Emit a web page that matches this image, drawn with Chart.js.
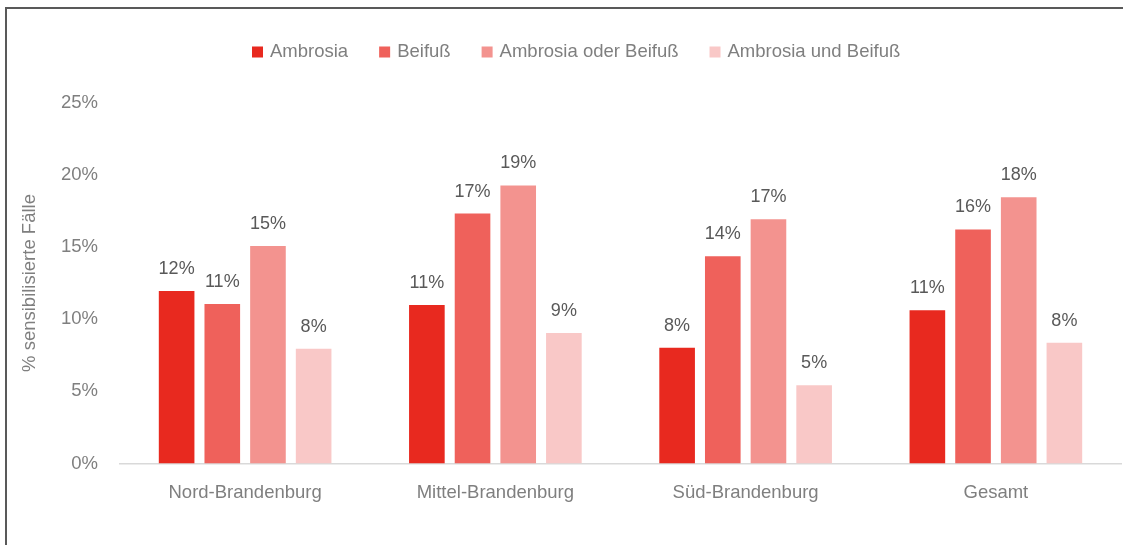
<!DOCTYPE html>
<html>
<head>
<meta charset="utf-8">
<script src="https://cdn.jsdelivr.net/npm/chart.js@4"></script>
<style>
  body { margin: 0; background: #fff; }
  #wrap { position: relative; width: 1123px; height: 545px; overflow: hidden; }
  #frame { position: absolute; left: 5px; top: 7px; right: -10px; bottom: -10px;
           border-top: 2px solid #595959; border-left: 2px solid #595959; }
  canvas { position: absolute; left: 0; top: 0; }
</style>
</head>
<body>
<div id="wrap">
  <div id="frame"></div>
  <canvas id="chart" width="1123" height="545"></canvas>
</div>
<script>
const regions = ['Nord-Brandenburg', 'Mittel-Brandenburg', 'Süd-Brandenburg', 'Gesamt'];
const seriesNames = ['Ambrosia', 'Beifuß', 'Ambrosia oder Beifuß', 'Ambrosia und Beifuß'];
const ambrosia = [11.94, 10.97, 8.01, 10.61];
const beifuss = [11.04, 17.31, 14.35, 16.21];
const oder = [15.06, 19.25, 16.92, 18.44];
const und = [7.94, 9.03, 5.42, 8.36];
const yTicks = [0, 5, 10, 15, 20, 25];

const colors = ['#E8291F', '#EF615B', '#F3938F', '#F9C8C7'];
const fontFamily = '"Liberation Sans", Arial, sans-serif';

const valueLabels = {
  id: 'valueLabels',
  afterDatasetsDraw(chart) {
    const ctx = chart.ctx;
    ctx.save();
    ctx.font = '18px ' + fontFamily;
    ctx.fillStyle = '#595959';
    ctx.textAlign = 'center';
    ctx.textBaseline = 'bottom';
    chart.data.datasets.forEach((ds, i) => {
      chart.getDatasetMeta(i).data.forEach((bar, j) => {
        ctx.fillText(Math.round(ds.data[j]) + '%', bar.x, bar.y - 13);
      });
    });
    ctx.restore();
  }
};

const topLegend = {
  id: 'topLegend',
  afterDraw(chart) {
    const ctx = chart.ctx;
    ctx.save();
    ctx.font = '18.5px ' + fontFamily;
    ctx.textBaseline = 'middle';
    let x = 252;
    const y = 52;
    chart.data.datasets.forEach(ds => {
      ctx.fillStyle = ds.backgroundColor;
      ctx.fillRect(x, y - 5.5, 11, 11);
      x += 18;
      ctx.fillStyle = '#7f7f7f';
      ctx.fillText(ds.label, x, y);
      x += ctx.measureText(ds.label).width + 31;
    });
    ctx.restore();
  }
};

const values = [ambrosia, beifuss, oder, und];

new Chart(document.getElementById('chart'), {
  type: 'bar',
  data: {
    labels: regions,
    datasets: seriesNames.map((name, i) => ({
      label: name,
      data: values[i],
      backgroundColor: colors[i],
      categoryPercentage: 0.73,
      barPercentage: 0.78
    }))
  },
  options: {
    responsive: false,
    animation: false,
    layout: { padding: { top: 102.5, right: 2, left: 2, bottom: 0 } },
    plugins: {
      legend: { display: false },
      tooltip: { enabled: false }
    },
    scales: {
      x: {
        grid: { display: false, drawTicks: false },
        border: { display: true, color: '#d9d9d9', width: 1.5 },
        ticks: { color: '#7f7f7f', padding: 18, font: { size: 18.5, family: fontFamily } },
        afterFit(scale) { scale.height = 81.5; }
      },
      y: {
        min: 0,
        max: 25,
        afterBuildTicks(scale) { scale.ticks = yTicks.map(v => ({ value: v })); },
        grid: { display: false, drawTicks: false },
        border: { display: false },
        ticks: {
          color: '#7f7f7f',
          padding: 22,
          font: { size: 18.5, family: fontFamily },
          callback: v => v + '%'
        },
        title: {
          display: true,
          text: '% sensibilisierte Fälle',
          color: '#7f7f7f',
          font: { size: 18.5, family: fontFamily },
          padding: { top: 17, bottom: 0 }
        },
        afterFit(scale) { scale.width = 118; }
      }
    }
  },
  plugins: [valueLabels, topLegend]
});
</script>
</body>
</html>
